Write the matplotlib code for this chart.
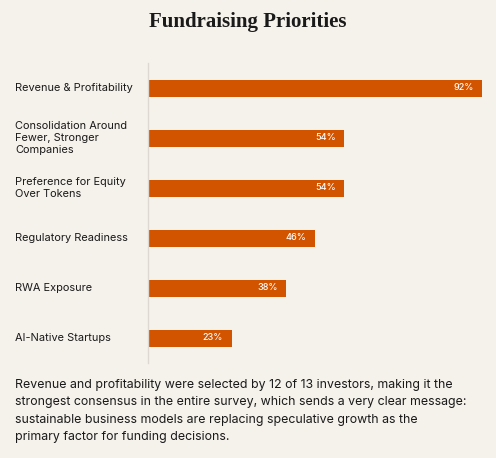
import matplotlib.pyplot as plt
import matplotlib.transforms as mtransforms

# --- Data ---
categories = [
    'Revenue & Profitability',
    'Consolidation Around\nFewer, Stronger\nCompanies',
    'Preference for Equity\nOver Tokens',
    'Regulatory Readiness',
    'RWA Exposure',
    'AI-Native Startups',
]
percentages = [92, 54, 54, 46, 38, 23]

title = 'Fundraising Priorities'
caption = ('Revenue and profitability were selected by 12 of 13 investors, making it the\n'
           'strongest consensus in the entire survey, which sends a very clear message:\n'
           'sustainable business models are replacing speculative growth as the\n'
           'primary factor for funding decisions.')

bg = '#F5F1EB'
bar_color = '#D35400'
text_color = '#1A1A1A'

plt.rcParams['font.family'] = ['Inter', 'DejaVu Sans']

fig = plt.figure(figsize=(4.96, 4.58), dpi=100, facecolor=bg)
ax = fig.add_axes([148 / 496, 95 / 458, (482 - 148) / 496, 300 / 458])
ax.set_facecolor(bg)

y_pos = list(range(len(categories)))
ax.barh(y_pos, percentages, height=0.34, color=bar_color)

ax.set_xlim(0, max(percentages))
ax.set_ylim(len(categories) - 0.5, -0.5)

for s in ['top', 'right', 'bottom']:
    ax.spines[s].set_visible(False)
ax.spines['left'].set_color('#DDD8D2')
ax.spines['left'].set_linewidth(1)
ax.set_xticks([])
ax.set_yticks([])

# category labels, left aligned near the figure edge
trans = mtransforms.blended_transform_factory(fig.transFigure, ax.transData)
for y, label in zip(y_pos, categories):
    ax.text(15 / 496, y, label, transform=trans, ha='left', va='center',
            fontsize=7.9, color=text_color, linespacing=1.3)

# value labels inside bars
for y, v in zip(y_pos, percentages):
    ax.annotate(f'{v}%', xy=(v, y), xytext=(-6, 0), textcoords='offset points',
                ha='right', va='center', fontsize=6.5, color='white',
                fontweight='medium')

fig.text(0.5, 1 - 22 / 458, title, ha='center', va='center', fontsize=15,
         fontweight='bold', family=['Liberation Serif', 'DejaVu Serif'],
         color=text_color)

fig.text(15 / 496, 1 - 379 / 458, caption, ha='left', va='top', fontsize=8.9,
         color=text_color, linespacing=1.6)

fig.savefig('out.png', dpi=100, facecolor=bg)
